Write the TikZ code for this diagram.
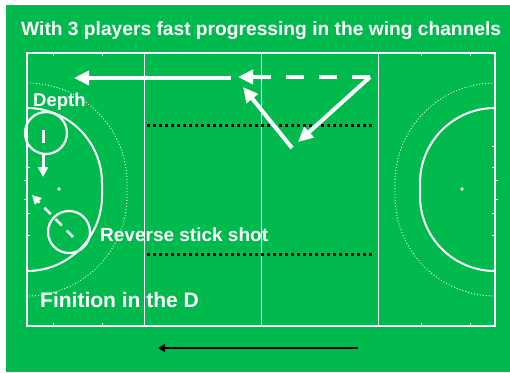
\documentclass[tikz,border=0pt]{standalone}
\usepackage{fontspec}
\setmainfont{Liberation Sans}
\usetikzlibrary{arrows.meta}
\definecolor{pitchgreen}{RGB}{0,186,77}
\begin{document}
\begin{tikzpicture}[
            x=1pt, y=-1pt,
            pitchline/.style={white, line width=1.2pt},
            quarterline/.style={white, line width=1pt},
            dline/.style={white, line width=2pt},
            dotarc/.style={white, line width=0.8pt, dash pattern=on 1pt off 2pt},
            tick/.style={white, line width=0.8pt},
            markline/.style={black, line width=3pt, dash pattern=on 3pt off 3pt},
            run/.style={white, line width=4pt, -{Triangle[length=15pt,width=14pt]}},
            pass/.style={run, dash pattern=on 18pt off 15pt},
            move/.style={white, line width=3pt, dash pattern=on 13pt off 12pt,
                -{Triangle[length=10pt,width=10pt]}},
            shot/.style={white, line width=2.5pt, dash pattern=on 9pt off 7pt,
                -{Triangle[length=9pt,width=9pt]}},
            direction/.style={black, line width=2.8pt, -{Triangle[length=7pt,width=8pt]}},
            player/.style={circle, draw=white, line width=2.2pt, minimum size=42pt, inner sep=0pt},
            label/.style={text=white, anchor=base west, inner sep=0pt},
        ]
        \useasboundingbox (0,0) rectangle (510,372);
        \fill[white] (0,0) rectangle (510,372);
        \fill[pitchgreen] (6,5) rectangle (510,372);

        \draw[pitchline] (27,53) rectangle (495,326);
        \foreach \x in {144,261,378}
            \draw[quarterline] (\x,53) -- (\x,326);
        \foreach \x in {53,102,421,470} {
            \draw[tick] (\x,53) -- (\x,56);
            \draw[tick] (\x,326) -- (\x,323);
        }
        \foreach \y in {146,167,213,235} {
            \draw[tick] (27,\y) -- (30,\y);
            \draw[tick] (495,\y) -- (492,\y);
        }
        \foreach \y in {180,199} {
            \draw[tick] (27,\y) -- (24,\y);
            \draw[tick] (495,\y) -- (498,\y);
        }

        \draw[dline] (27,108) arc[start angle=-90, end angle=0, radius=75]
            -- (102,196) arc[start angle=0, end angle=90, radius=75];
        \draw[dline] (495,108) arc[start angle=-90, end angle=-180, radius=75]
            -- (420,196) arc[start angle=180, end angle=90, radius=75];
        \draw[dotarc] (27,83) arc[start angle=-90, end angle=0, radius=100]
            -- (127,196) arc[start angle=0, end angle=90, radius=100];
        \draw[dotarc] (495,83) arc[start angle=-90, end angle=-180, radius=100]
            -- (395,196) arc[start angle=180, end angle=90, radius=100];
        \fill[white] (59,189) circle (1.8);
        \fill[white] (462,189) circle (1.8);

        \coordinate (upper-left) at (147,125);
        \coordinate (upper-right) at (373,125);
        \coordinate (lower-left) at (147,254);
        \coordinate (lower-right) at (373,254);
        \draw[markline] (upper-left) -- (upper-right);
        \draw[markline] (lower-left) -- (lower-right);

        \coordinate (wing) at (231,78);
        \coordinate (goalward) at (74,78);
        \coordinate (far) at (370,77);
        \coordinate (back) at (238,77);
        \coordinate (inside) at (298,142);
        \coordinate (support) at (292,148);
        \coordinate (return) at (243,87);
        \draw[run] (wing) -- (goalward);
        \draw[pass] (far) -- (back);
        \draw[run] (far) -- (inside);
        \draw[run] (support) -- (return);

        \node[player] (depth) at (46,133) {};
        \node[player] (shooter) at (69,232) {};
        \coordinate (depth-start) at (43,130);
        \coordinate (depth-end) at (43,177);
        \coordinate (shot-start) at (73,237);
        \coordinate (shot-end) at (32,195);
        \draw[move] (depth-start) -- (depth-end);
        \draw[shot] (shot-start) -- (shot-end);

        \coordinate (play-from) at (358,348);
        \coordinate (play-to) at (158,348);
        \draw[direction] (play-from) -- (play-to);

        \node[label, font=\fontsize{19.2}{22}\selectfont\bfseries] (title) at (21,35)
            {With 3 players fast progressing in the wing channels};
        \node[label, font=\fontsize{18.5}{21}\selectfont\bfseries] (depth-label) at (33,106) {Depth};
        \node[label, font=\fontsize{19}{21}\selectfont\bfseries] (shot-label) at (100,241)
            {Reverse stick shot};
        \node[label, font=\fontsize{21}{24}\selectfont\bfseries] (finish-label) at (40,307)
            {Finition in the D};
\end{tikzpicture}
\end{document}
